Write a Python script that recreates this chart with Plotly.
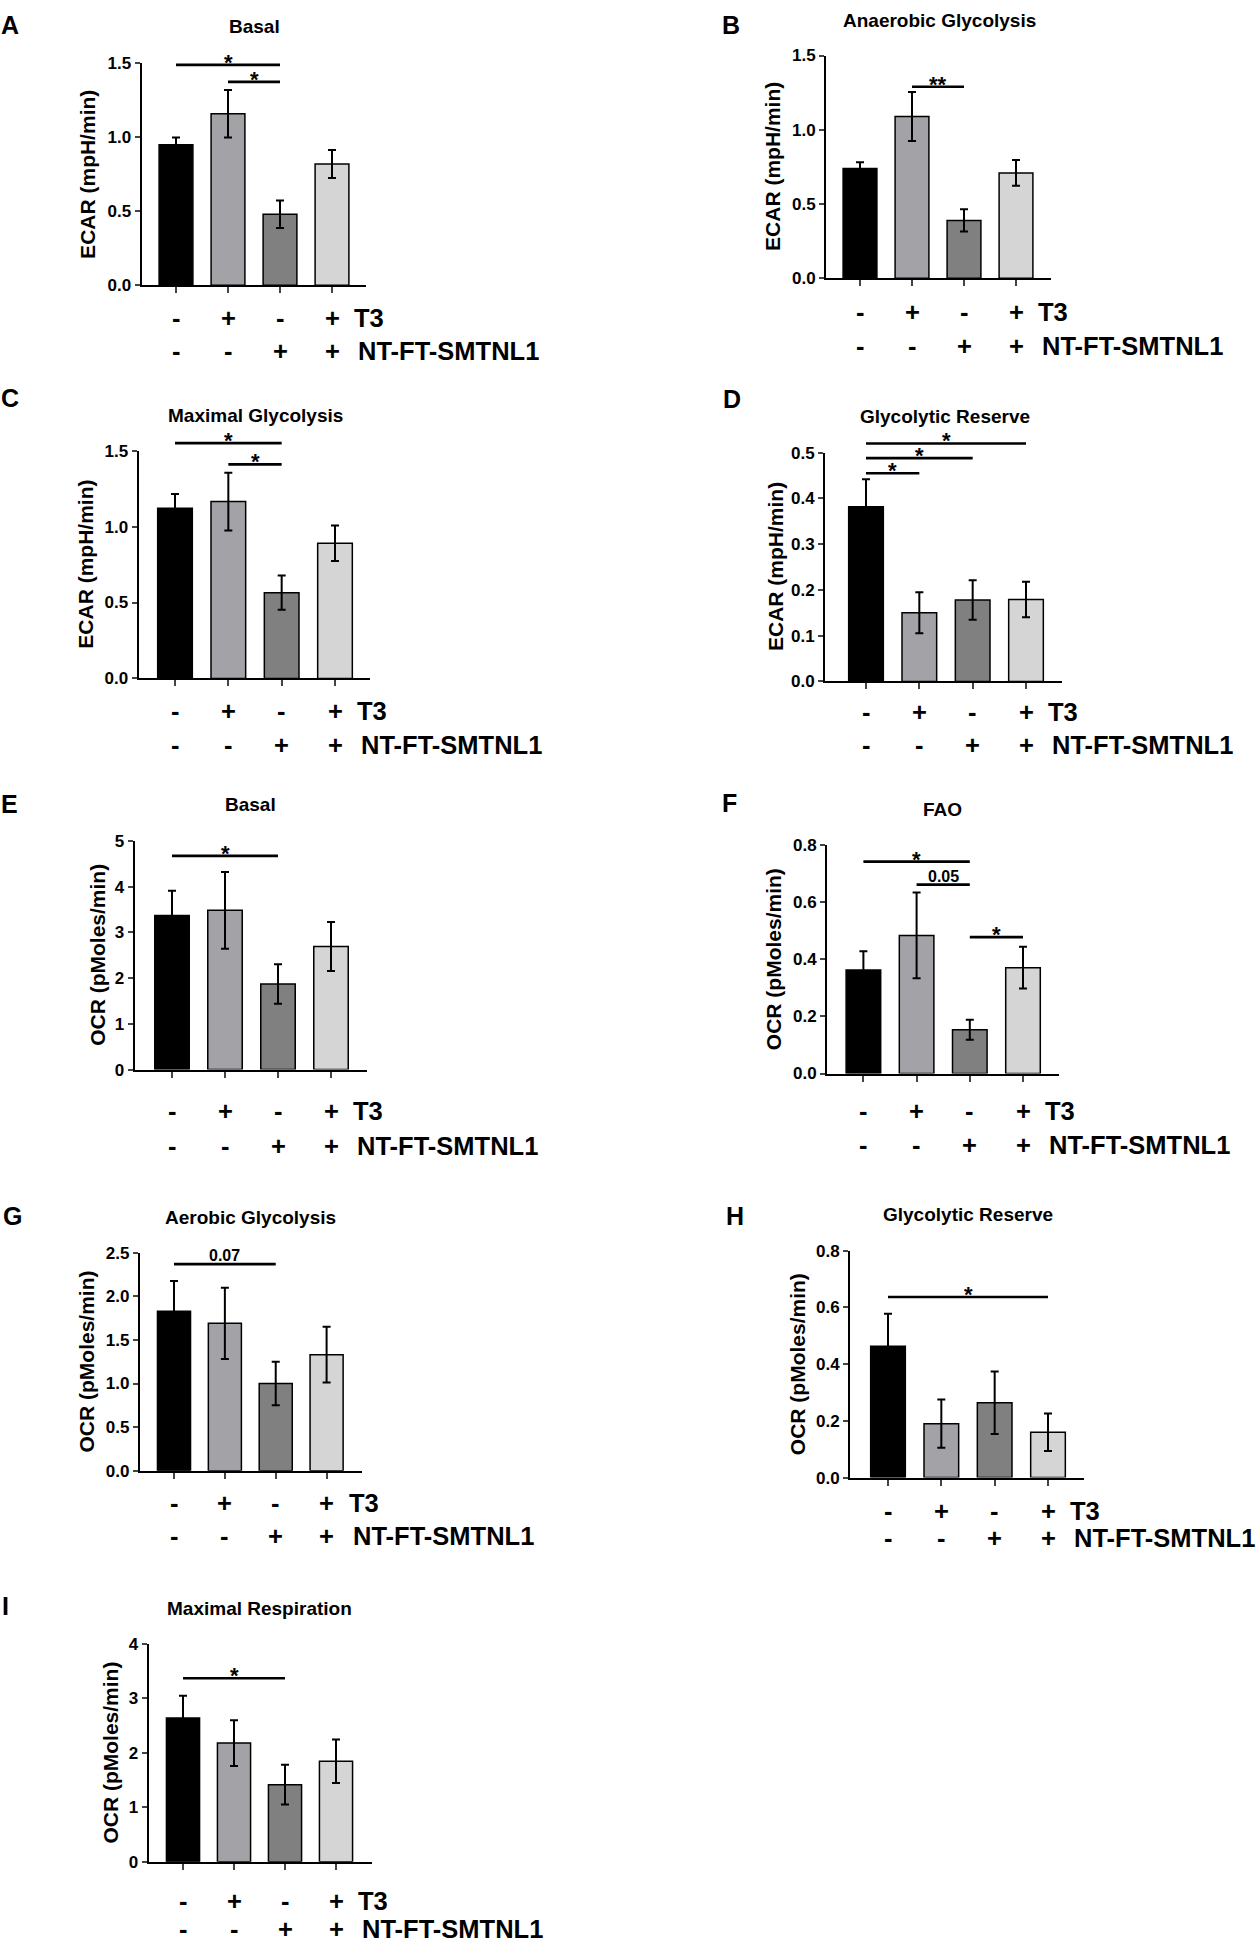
import plotly.graph_objects as go

W, H = 1260, 1953
FONT = "Liberation Sans, Arial, sans-serif"
BAR_COLORS = ["#000000", "#a2a2a7", "#808080", "#d5d5d5"]

# conditions under each bar
GROUPS = [0, 1, 2, 3]
T3_ROW = ["-", "+", "-", "+"]
NT_ROW = ["-", "-", "+", "+"]

# means and SEM
A_MEAN = [0.95, 1.16, 0.48, 0.82]
A_SEM = [0.05, 0.16, 0.093, 0.095]
B_MEAN = [0.74, 1.09, 0.39, 0.71]
B_SEM = [0.042, 0.165, 0.075, 0.087]
C_MEAN = [1.12, 1.165, 0.565, 0.89]
C_SEM = [0.095, 0.19, 0.113, 0.117]
D_MEAN = [0.382, 0.15, 0.178, 0.179]
D_SEM = [0.06, 0.045, 0.043, 0.039]
E_MEAN = [3.37, 3.48, 1.87, 2.69]
E_SEM = [0.54, 0.84, 0.43, 0.535]
F_MEAN = [0.362, 0.483, 0.153, 0.37]
F_SEM = [0.066, 0.15, 0.035, 0.073]
G_MEAN = [1.83, 1.69, 1.0, 1.33]
G_SEM = [0.345, 0.41, 0.25, 0.32]
H_MEAN = [0.463, 0.19, 0.264, 0.16]
H_SEM = [0.115, 0.085, 0.11, 0.066]
I_MEAN = [2.64, 2.18, 1.415, 1.845]
I_SEM = [0.41, 0.42, 0.365, 0.40]

# significance brackets: (from group, to group, height, label)
A_SIG = [(0, 2, 1.49, "*"), (1, 2, 1.375, "*")]
B_SIG = [(1, 2, 1.29, "**")]
C_SIG = [(0, 2, 1.55, "*"), (1, 2, 1.41, "*")]
D_SIG = [(0, 1, 0.455, "*"), (0, 2, 0.488, "*"), (0, 3, 0.52, "*")]
E_SIG = [(0, 2, 4.67, "*")]
F_SIG = [(0, 2, 0.741, "*"), (1, 2, 0.661, "0.05"), (2, 3, 0.477, "*")]
G_SIG = [(0, 2, 2.37, "0.07")]
H_SIG = [(0, 3, 0.637, "*")]
I_SIG = [(0, 2, 3.37, "*")]

ECAR = "ECAR (mpH/min)"
OCR = "OCR (pMoles/min)"

# panel table; geometry in pixels of the 1260x1953 page
PANELS = [
    dict(letter="A", title="Basal", ylabel=ECAR, mean=A_MEAN, sem=A_SEM, sig=A_SIG, ymax=1.5, dtick=0.5, fmt=".1f",
         ax=141.5, xend=366, top=55, zero=279, b1=176, b4=332, tpos=(254, 18), lpos=(10, 16), rows=(312, 345), yl=54),
    dict(letter="B", title="Anaerobic Glycolysis", ylabel=ECAR, mean=B_MEAN, sem=B_SEM, sig=B_SIG, ymax=1.5, dtick=0.5, fmt=".1f",
         ax=826, xend=1051, top=47, zero=272, b1=860, b4=1016, tpos=(939, 12), lpos=(731, 16), rows=(306, 340), yl=53),
    dict(letter="C", title="Maximal Glycolysis", ylabel=ECAR, mean=C_MEAN, sem=C_SEM, sig=C_SIG, ymax=1.5, dtick=0.5, fmt=".1f",
         ax=138.6, xend=370, top=446, zero=676, b1=175, b4=335, tpos=(255, 410), lpos=(10, 393), rows=(709, 743), yl=53.5),
    dict(letter="D", title="Glycolytic Reserve", ylabel=ECAR, mean=D_MEAN, sem=D_SEM, sig=D_SIG, ymax=0.5, dtick=0.1, fmt=".1f",
         ax=825, xend=1062, top=448, zero=679, b1=866, b4=1026, tpos=(945, 412), lpos=(732, 394), rows=(710, 743), yl=50),
    dict(letter="E", title="Basal", ylabel=OCR, mean=E_MEAN, sem=E_SEM, sig=E_SIG, ymax=5, dtick=1, fmt="d",
         ax=134.6, xend=367, top=840, zero=1071, b1=172, b4=331, tpos=(251, 803), lpos=(9, 803), rows=(1113, 1148), yl=37),
    dict(letter="F", title="FAO", ylabel=OCR, mean=F_MEAN, sem=F_SEM, sig=F_SIG, ymax=0.8, dtick=0.2, fmt=".1f",
         ax=827, xend=1059, top=844, zero=1075, b1=863.4, b4=1023, tpos=(942.6, 808), lpos=(729.6, 802), rows=(1113, 1147), yl=54),
    dict(letter="G", title="Aerobic Glycolysis", ylabel=OCR, mean=G_MEAN, sem=G_SEM, sig=G_SIG, ymax=2.5, dtick=0.5, fmt=".1f",
         ax=139.8, xend=361.6, top=1256, zero=1476, b1=174, b4=326.6, tpos=(250, 1220), lpos=(12, 1219), rows=(1509, 1542), yl=53),
    dict(letter="H", title="Glycolytic Reserve", ylabel=OCR, mean=H_MEAN, sem=H_SEM, sig=H_SIG, ymax=0.8, dtick=0.2, fmt=".1f",
         ax=850, xend=1084, top=1254, zero=1483, b1=888, b4=1048, tpos=(967.5, 1217), lpos=(735, 1219), rows=(1517, 1544), yl=53),
    dict(letter="I", title="Maximal Respiration", ylabel=OCR, mean=I_MEAN, sem=I_SEM, sig=I_SIG, ymax=4, dtick=1, fmt="d",
         ax=148.7, xend=371.6, top=1651, zero=1871, b1=183, b4=336, tpos=(259, 1615), lpos=(5, 1613), rows=(1911, 1939), yl=38),
]


def px(x, y):
    return x / W, 1 - y / H


def bold(size):
    return dict(family=FONT, size=size, color="black", weight="bold")


fig = go.Figure()
layout = dict(shapes=[], annotations=[])

for i, p in enumerate(PANELS, start=1):
    n = "" if i == 1 else str(i)
    xa, ya = f"x{n}", f"y{n}"
    sp = (p["b4"] - p["b1"]) / 3
    xr = [-(p["b1"] - p["ax"]) / sp, 3 + (p["xend"] - p["b4"]) / sp]

    fig.add_trace(go.Bar(
        x=GROUPS, y=p["mean"], width=0.65, xaxis=xa, yaxis=ya, showlegend=False,
        marker=dict(color=BAR_COLORS, line=dict(color="black", width=1.5)),
        error_y=dict(type="data", array=p["sem"], color="black", thickness=2, width=4),
    ))

    layout[f"xaxis{n}"] = dict(
        domain=[p["ax"] / W, p["xend"] / W], range=xr, anchor=ya,
        showline=True, linewidth=2, linecolor="black", ticks="outside", ticklen=6, tickwidth=2,
        tickvals=GROUPS, showticklabels=False, showgrid=False, zeroline=False, fixedrange=True,
    )
    layout[f"yaxis{n}"] = dict(
        domain=[1 - p["zero"] / H, 1 - p["top"] / H], range=[0, p["ymax"]], anchor=xa,
        showline=True, linewidth=2, linecolor="black", ticks="outside", ticklen=5, tickwidth=2,
        dtick=p["dtick"], tick0=0, tickformat=p["fmt"], tickfont=bold(17),
        showgrid=False, zeroline=False, fixedrange=True,
    )

    # significance brackets
    for a, b, h, lab in p["sig"]:
        layout["shapes"].append(dict(
            type="line", xref=xa, yref=f"{ya} domain", x0=a, x1=b, y0=h / p["ymax"], y1=h / p["ymax"],
            line=dict(color="black", width=2.7),
        ))
        star = lab.startswith("*")
        layout["annotations"].append(dict(
            text=lab, xref=xa, yref=f"{ya} domain", x=(a + b) / 2, y=h / p["ymax"],
            xanchor="center", yanchor="bottom", showarrow=False,
            yshift=-12 if star else -2, font=bold(22 if star else 16),
        ))

    # condition rows
    for g in GROUPS:
        for row, signs in zip(p["rows"], (T3_ROW, NT_ROW)):
            layout["annotations"].append(dict(
                text=signs[g], xref=xa, yref="paper", x=g, y=1 - row / H,
                xanchor="center", yanchor="middle", showarrow=False, font=bold(25.5),
            ))
    for row, lab, shift in zip(p["rows"], ("T3", "NT-FT-SMTNL1"), (20, 24)):
        layout["annotations"].append(dict(
            text=lab, xref=xa, yref="paper", x=3, y=1 - row / H, xshift=shift,
            xanchor="left", yanchor="middle", showarrow=False, font=bold(25.5),
        ))

    # title, panel letter, y label
    tx, ty = px(*p["tpos"])
    layout["annotations"].append(dict(text=p["title"], xref="paper", yref="paper", x=tx, y=ty,
                                      xanchor="center", yanchor="middle", showarrow=False, font=bold(19)))
    lx, ly = px(*p["lpos"])
    layout["annotations"].append(dict(text=p["letter"], xref="paper", yref="paper", x=lx, y=ly,
                                      xanchor="center", yanchor="middle", showarrow=False, font=bold(25)))
    yx, yy = px(p["ax"] - p["yl"], (p["top"] + p["zero"]) / 2)
    layout["annotations"].append(dict(text=p["ylabel"], xref="paper", yref="paper", x=yx, y=yy, textangle=-90,
                                      xanchor="center", yanchor="middle", showarrow=False, font=bold(21)))

fig.update_layout(
    width=W, height=H, margin=dict(l=0, r=0, t=0, b=0),
    paper_bgcolor="white", plot_bgcolor="white",
    font=dict(family=FONT, color="black"), bargap=0.35,
    **layout,
)

# page body margin would push the figure off by 8px
fig.write_html(
    "out.html",
    config={"displayModeBar": False},
    post_script="document.body.style.margin='0';document.body.style.overflow='hidden';",
)
